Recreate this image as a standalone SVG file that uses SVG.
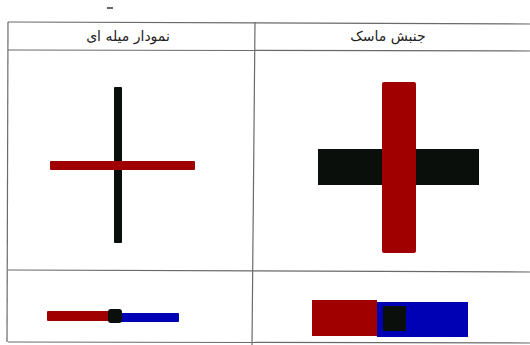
<svg xmlns="http://www.w3.org/2000/svg" width="530" height="345" viewBox="0 0 530 345">
<style>
.grid{stroke:#6a6a6a;stroke-width:1.2;fill:none}
.hdr{font-family:"DejaVu Sans","Noto Sans",sans-serif;font-size:14px;fill:#222;text-anchor:middle}
.red{fill:#a00000}
.blk{fill:#0a0f0c}
.blu{fill:#0000b4}
</style>
<rect width="530" height="345" fill="#fff"/>
<g id="table">
<line class="grid" x1="8" y1="22" x2="530" y2="24"/>
<line class="grid" x1="8" y1="50" x2="530" y2="51"/>
<line class="grid" x1="8" y1="270" x2="530" y2="272"/>
<line class="grid" x1="8" y1="342" x2="530" y2="343"/>
<line class="grid" x1="8" y1="22" x2="7" y2="342"/>
<line class="grid" x1="255" y1="22" x2="252" y2="345"/>
<line x1="107" y1="8" x2="113" y2="8" stroke="#333" stroke-width="1.5"/>
</g>
<g id="header-left"><text class="hdr" x="128" y="41" direction="rtl" letter-spacing="1" style="text-anchor:middle">نمودار میله ای</text></g>
<g id="header-right"><text class="hdr" x="388" y="41" direction="rtl" style="text-anchor:middle">جنبش ماسک</text></g>
<g id="bar-cross">
<rect class="blk" x="114" y="87" width="8" height="156" rx="1"/>
<rect class="red" x="50" y="161" width="145" height="9" rx="1"/>
</g>
<g id="mask-cross">
<rect class="blk" x="318" y="149" width="161" height="36"/>
<rect class="red" x="382" y="82" width="34" height="171" rx="2"/>
</g>
<g id="bar-line">
<rect class="red" x="47" y="311" width="68" height="10" rx="1"/>
<rect class="blu" x="115" y="313" width="64" height="9" rx="1"/>
<rect class="blk" x="108" y="309" width="14" height="14" rx="3"/>
</g>
<g id="mask-line">
<rect class="red" x="312" y="300" width="65" height="36"/>
<rect class="blu" x="377" y="302" width="91" height="35"/>
<rect class="blk" x="383" y="306" width="23" height="25"/>
</g>
</svg>
